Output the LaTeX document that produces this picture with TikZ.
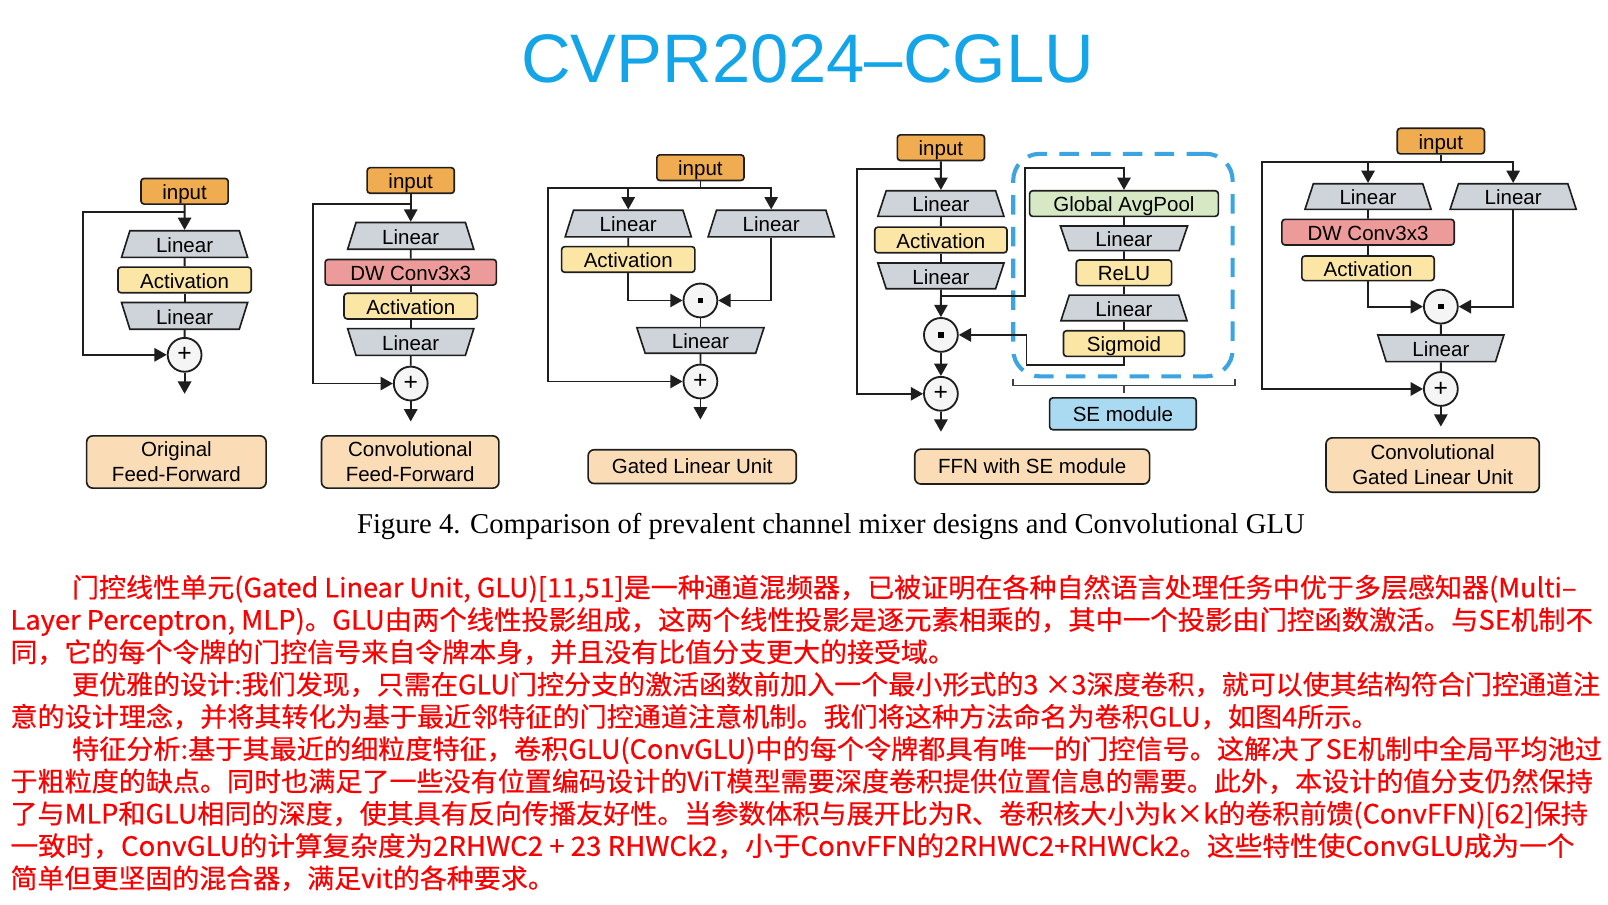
\documentclass[tikz,border=0pt]{standalone}
\usepackage{fontspec}
\usepackage{graphicx}
\usetikzlibrary{shapes.geometric,arrows.meta}
\newfontfamily\sansf{Liberation Sans}
\newfontfamily\seriff{Liberation Serif}
\newfontfamily\cjkf[FakeBold=0.4]{Noto Sans CJK SC}
\definecolor{lc}{RGB}{30,30,30}
\definecolor{inorange}{RGB}{240,172,80}
\definecolor{lingray}{RGB}{206,212,217}
\definecolor{actyellow}{RGB}{252,230,165}
\definecolor{dwred}{RGB}{236,154,154}
\definecolor{gapgreen}{RGB}{214,233,196}
\definecolor{sefill}{RGB}{170,218,242}
\definecolor{peach}{RGB}{250,221,183}
\definecolor{dashblue}{RGB}{60,165,225}
\definecolor{titleblue}{RGB}{20,165,232}
\definecolor{opfill}{RGB}{245,245,245}
\definecolor{txtred}{RGB}{250,0,0}
\newcommand\boxfont{\sansf\fontsize{20}{24}\selectfont}
\newcommand\lblfont{\sansf\fontsize{20}{24.4}\selectfont}
\newcommand\cjkfont{\cjkf\fontsize{26}{31}\selectfont}
\newcommand\fitw[2]{\resizebox{#1pt}{\height}{#2}}
\newcommand\dotsq{\rule{5.5pt}{5.5pt}}
\tikzset{
  ln/.style={draw=lc, line width=1.8pt},
  arr/.style={ln, -{Triangle[length=12pt,width=13pt]}},
  bx/.style={rectangle, rounded corners=3pt, draw=lc, line width=1.6pt, minimum height=25pt, inner sep=0pt, font=\boxfont, text height=16pt, text depth=0pt},
  inbox/.style={bx, fill=inorange, minimum width=85pt},
  actbox/.style={bx, fill=actyellow},
  dwbox/.style={bx, fill=dwred, minimum width=167pt},
  trapu/.style={trapezium, trapezium angle=63, trapezium stretches body, draw=lc, line width=1.6pt, fill=lingray, minimum width=123pt, minimum height=26pt, inner sep=0pt, font=\boxfont, text height=16pt, text depth=0pt},
  trapd/.style={trapu, shape border rotate=180},
  opc/.style={circle, draw=lc, line width=1.8pt, fill=opfill, minimum size=33pt, inner sep=0pt, font=\sansf\fontsize{24}{24}\selectfont},
  lbl/.style={rectangle, rounded corners=6pt, draw=lc, line width=1.6pt, fill=peach, align=center, inner sep=0pt, font=\lblfont},
  cjkline/.style={anchor=base west, inner sep=0pt, font=\cjkfont, text=txtred},
  brk/.style={draw=lc!85, line width=1.5pt},
}
\begin{document}
\begin{tikzpicture}[x=1pt,y=-1pt]
\useasboundingbox (0,0) rectangle (1568,882);
\fill[white] (0,0) rectangle (1568,882);

% title
\node[anchor=base, inner sep=0pt, font=\sansf\fontsize{67}{70}\selectfont, text=titleblue] (title) at (787.5,80) {CVPR2024–CGLU};

% ---------- D1 Original FF
\node[inbox] (in1) at (180,186.5) {input};
\node[trapu] (lin1a) at (180,238) {Linear};
\node[actbox, minimum width=130pt] (act1) at (180,273) {Activation};
\node[trapd] (lin1b) at (180,308) {Linear};
\node[opc] (plus1) at (180,346) {+};
\coordinate (out1) at (180,384);
\coordinate (s1) at (180,207);
\node[lbl, minimum width=175pt, minimum height=51pt] (lab1) at (172,450.5) {Original\\Feed-Forward};
\draw[arr] (in1) -- (lin1a);
\draw[ln] (lin1a) -- (act1);
\draw[ln] (act1) -- (lin1b);
\draw[ln] (lin1b) -- (plus1);
\draw[arr] (plus1) -- (out1);
\draw[arr] (s1) -- (81,207) |- (plus1.west);

% ---------- D2 Conv FF
\node[inbox] (in2) at (400.5,176) {input};
\node[trapu] (lin2a) at (400.5,230) {Linear};
\node[dwbox] (dw2) at (400.5,265.5) {DW Conv3x3};
\node[actbox, minimum width=130pt] (act2) at (400.5,298.5) {Activation};
\node[trapd] (lin2b) at (400.5,333.5) {Linear};
\node[opc] (plus2) at (400.5,374) {+};
\coordinate (out2) at (400.5,411);
\coordinate (s2) at (400.5,199);
\node[lbl, minimum width=173pt, minimum height=51pt] (lab2) at (400,450.5) {Convolutional\\Feed-Forward};
\draw[arr] (in2) -- (lin2a);
\draw[ln] (lin2a) -- (dw2);
\draw[ln] (dw2) -- (act2);
\draw[ln] (act2) -- (lin2b);
\draw[ln] (lin2b) -- (plus2);
\draw[arr] (plus2) -- (out2);
\draw[arr] (s2) -- (305.5,199) |- (plus2.west);

% ---------- D3 GLU
\node[inbox] (in3) at (683,163.5) {input};
\coordinate (sp3) at (683,183.6);
\node[trapu] (linL3) at (612.6,218) {Linear};
\node[trapu] (linR3) at (752,218) {Linear};
\node[actbox, minimum width=130pt] (act3) at (612.6,253) {Activation};
\node[opc] (dot3) at (683,293) {\dotsq};
\node[trapd, minimum width=124pt, minimum height=25pt] (lin3c) at (683,332) {Linear};
\node[opc] (plus3) at (683,372) {+};
\coordinate (out3) at (683,409);
\node[lbl, minimum width=203pt, minimum height=33pt] (lab3) at (675,455) {Gated Linear Unit};
\draw[ln] (in3) -- (sp3);
\draw[arr] (sp3) -| (linL3.north);
\draw[arr] (sp3) -| (linR3.north);
\draw[arr] (sp3) -- (534.6,183.6) |- (plus3.west);
\draw[ln] (linL3) -- (act3);
\draw[arr] (act3.south) |- (dot3.west);
\draw[arr] (linR3.south) |- (dot3.east);
\draw[ln] (dot3) -- (lin3c);
\draw[ln] (lin3c) -- (plus3);
\draw[arr] (plus3) -- (out3);

% ---------- D4 FFN with SE
\node[draw=dashblue, line width=4pt, dash pattern=on 19pt off 12pt, rounded corners=26pt, minimum width=214pt, minimum height=217pt, inner sep=0pt] (sebox) at (1095,258.5) {};
\node[inbox] (in4) at (917.5,144) {input};
\coordinate (s4) at (917.5,165);
\node[trapu, minimum height=25pt] (lin4a) at (917.5,198.5) {Linear};
\node[actbox, minimum width=129pt] (act4) at (917.5,234) {Activation};
\node[trapd, minimum height=25pt] (lin4b) at (917.5,269) {Linear};
\coordinate (b4) at (917.5,288.6);
\node[opc] (dot4) at (917.5,326.6) {\dotsq};
\node[opc] (plus4) at (917.5,384) {+};
\coordinate (out4) at (917.5,421);
\node[bx, fill=gapgreen, minimum width=184pt] (gap4) at (1096,198.5) {Global AvgPool};
\node[trapd, minimum width=124pt, minimum height=24pt] (lin4c) at (1096,232.4) {Linear};
\node[actbox, minimum width=93pt] (relu4) at (1096,266) {ReLU};
\node[trapu, minimum height=25pt] (lin4d) at (1096,300.3) {Linear};
\node[actbox, minimum width=118pt] (sig4) at (1096,335) {Sigmoid};
\node[bx, fill=sefill, minimum width=143pt, minimum height=31pt] (se4) at (1095,403.5) {SE module};
\node[lbl, minimum width=229pt, minimum height=34pt] (lab4) at (1006.5,455) {FFN with SE module};
\draw[brk] (988,370) -- (988,376) -- (1204,376) -- (1204,370);
\draw[brk] (1096,376) -- (1096,383);
\draw[arr] (in4) -- (lin4a);
\draw[arr] (s4) -- (836,165) |- (plus4.west);
\draw[ln] (lin4a) -- (act4);
\draw[ln] (act4) -- (lin4b);
\draw[arr] (lin4b) -- (dot4);
\draw[arr] (b4) -- (999.4,288.6) -- (999.4,163.5) -| (gap4.north);
\draw[ln] (gap4) -- (lin4c);
\draw[ln] (lin4c) -- (relu4);
\draw[ln] (relu4) -- (lin4d);
\draw[ln] (lin4d) -- (sig4);
\draw[arr] (sig4.south) -- (1096,356) -- (1001,356) |- (dot4.east);
\draw[arr] (dot4) -- (plus4);
\draw[arr] (plus4) -- (out4);

% ---------- D5 CGLU
\node[inbox] (in5) at (1405,137.6) {input};
\coordinate (sp5) at (1405,157.6);
\node[trapu, minimum height=25pt] (linL5) at (1334,191.7) {Linear};
\node[trapu, minimum height=25pt] (linR5) at (1475.5,191.7) {Linear};
\node[dwbox, minimum width=168pt] (dw5) at (1334,226.4) {DW Conv3x3};
\node[actbox, minimum width=129pt, minimum height=24pt] (act5) at (1334,261.6) {Activation};
\node[opc] (dot5) at (1405,299) {\dotsq};
\node[trapd] (lin5c) at (1405,339.6) {Linear};
\node[opc] (plus5) at (1405,379.3) {+};
\coordinate (out5) at (1405,416);
\node[lbl, minimum width=208pt, minimum height=53pt] (lab5) at (1397,453.5) {Convolutional\\Gated Linear Unit};
\draw[ln] (in5) -- (sp5);
\draw[arr] (sp5) -| (linL5.north);
\draw[arr] (sp5) -| (linR5.north);
\draw[arr] (sp5) -- (1230.8,157.6) |- (plus5.west);
\draw[ln] (linL5) -- (dw5);
\draw[ln] (dw5) -- (act5);
\draw[arr] (act5.south) |- (dot5.west);
\draw[arr] (linR5.south) |- (dot5.east);
\draw[ln] (dot5) -- (lin5c);
\draw[ln] (lin5c) -- (plus5);
\draw[arr] (plus5) -- (out5);

% caption
\node[anchor=base west, inner sep=0pt, font=\seriff\fontsize{28}{34}\selectfont] (cap) at (348,520) {\fitw{924}{Figure 4. Comparison of prevalent channel mixer designs and Convolutional GLU}};

% Chinese text
\node[cjkline] (t1) at (70,582.5) {\fitw{1467}{门控线性单元(Gated Linear Unit, GLU)[11,51]是一种通道混频器，已被证明在各种自然语言处理任务中优于多层感知器(Multi–}};
\node[cjkline] (t2) at (10,614) {\fitw{1543}{Layer Perceptron, MLP)。GLU由两个线性投影组成，这两个线性投影是逐元素相乘的，其中一个投影由门控函数激活。与SE机制不}};
\node[cjkline] (t3) at (10,645.5) {\fitw{921}{同，它的每个令牌的门控信号来自令牌本身，并且没有比值分支更大的接受域。}};
\node[cjkline] (t4) at (70,677) {\fitw{1490}{更优雅的设计:我们发现，只需在GLU门控分支的激活函数前加入一个最小形式的3 ×3深度卷积，就可以使其结构符合门控通道注}};
\node[cjkline] (t5) at (10,708.5) {\fitw{1334}{意的设计理念，并将其转化为基于最近邻特征的门控通道注意机制。我们将这种方法命名为卷积GLU，如图4所示。}};
\node[cjkline] (t6) at (70,740) {\fitw{1492}{特征分析:基于其最近的细粒度特征，卷积GLU(ConvGLU)中的每个令牌都具有唯一的门控信号。这解决了SE机制中全局平均池过}};
\node[cjkline] (t7) at (10,771.5) {\fitw{1543}{于粗粒度的缺点。同时也满足了一些没有位置编码设计的ViT模型需要深度卷积提供位置信息的需要。此外，本设计的值分支仍然保持}};
\node[cjkline] (t8) at (10,803) {\fitw{1538}{了与MLP和GLU相同的深度，使其具有反向传播友好性。当参数体积与展开比为R、卷积核大小为k×k的卷积前馈(ConvFFN)[62]保持}};
\node[cjkline] (t9) at (10,834.5) {\fitw{1525}{一致时，ConvGLU的计算复杂度为2RHWC2 + 23 RHWCk2，小于ConvFFN的2RHWC2+RHWCk2。这些特性使ConvGLU成为一个}};
\node[cjkline] (t10) at (10,866) {\scalebox{1.012}[1]{简单但更坚固的混合器，满足vit的各种要求。}};
\end{tikzpicture}
\end{document}
